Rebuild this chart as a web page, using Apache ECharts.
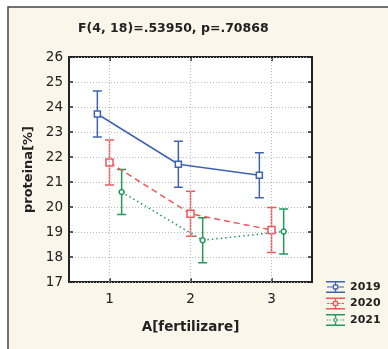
<!DOCTYPE html>
<html>
<head>
<meta charset="utf-8">
<script src="https://cdn.jsdelivr.net/npm/echarts@6/dist/echarts.min.js"></script>
<style>
  html, body { margin: 0; padding: 0; background: #fff; }
  #chart { width: 388px; height: 349px; }
</style>
</head>
<body>
<div id="chart"></div>
<script>
// data
const categories = [1, 2, 3];
const years = ["2019", "2020", "2021"];
const mean2019 = [23.72, 21.71, 21.27];
const mean2020 = [21.78, 19.73, 19.08];
const mean2021 = [20.6, 18.67, 19.02];
const err2019 = [0.92, 0.92, 0.9];
const err2020 = [0.9, 0.9, 0.9];
const err2021 = [0.9, 0.9, 0.9];

const means = [mean2019, mean2020, mean2021];
const errs = [err2019, err2020, err2021];

// style
const colors = ["#3d64b4", "#f0585c", "#23985a"];
const shift = [-0.15, 0, 0.15]; // dodge so the bars do not overlap
const lineTypes = ["solid", [6, 4], [1.5, 3]];
const symbols = ["rect", "rect", "circle"];
const symbolSizes = [6, 7, 5];
const font = "DejaVu Sans";

// legend glyphs (error bar + marker)
const capPath = "M0 0H19V1.4H0Z M0 10.6H19V12H0Z M8.8 1.4H10.2V3.6H8.8Z M8.8 8.4H10.2V10.6H8.8Z ";
const boxPath = "M6.8 3.6H12.2V8.4H6.8Z M8 4.8V7.2H11V4.8Z ";
const icons = [
  "path://" + capPath + boxPath + "M1 5.4H6.8V6.6H1Z M12.2 5.4H18V6.6H12.2Z",
  "path://" + capPath + boxPath + "M1 5.4H3.5V6.6H1Z M4.5 5.4H6.8V6.6H4.5Z M12.2 5.4H14.5V6.6H12.2Z M15.5 5.4H18V6.6H15.5Z",
  "path://M0 0H19V1.4H0Z M0 10.6H19V12H0Z M8.8 1.4H10.2V3.2H8.8Z M8.8 8.8H10.2V10.6H8.8Z " +
    "M9.5 3.2L12.3 6L9.5 8.8L6.7 6Z M9.5 4.6L8.1 6L9.5 7.4L10.9 6Z " +
    "M1 5.4H2.2V6.6H1Z M3.6 5.4H4.8V6.6H3.6Z M14.2 5.4H15.4V6.6H14.2Z M16.8 5.4H18V6.6H16.8Z"
];

let myChart = echarts.init(document.getElementById("chart"));

let seriesArr = [];
years.forEach((y, i) => {
  // error bars
  seriesArr.push({
    name: y,
    type: "custom",
    z: 2,
    silent: true,
    data: categories.map((c, j) => [c + shift[i], means[i][j] - errs[i][j], means[i][j] + errs[i][j]]),
    renderItem: (params, api) => {
      let top = api.coord([api.value(0), api.value(2)]);
      let bot = api.coord([api.value(0), api.value(1)]);
      let w = 4.5;
      let st = { stroke: colors[i], lineWidth: 1.5 };
      return {
        type: "group",
        children: [
          { type: "line", shape: { x1: top[0], y1: top[1], x2: bot[0], y2: bot[1] }, style: st },
          { type: "line", shape: { x1: top[0] - w, y1: top[1], x2: top[0] + w, y2: top[1] }, style: st },
          { type: "line", shape: { x1: bot[0] - w, y1: bot[1], x2: bot[0] + w, y2: bot[1] }, style: st },
        ],
      };
    },
    markLine: i === 0 ? {
      silent: true,
      symbol: ["none", "none"],
      label: { show: false },
      lineStyle: { color: "#b8b8b8", type: [1, 2], width: 1 },
      data: categories.map((c) => ({ xAxis: c })),
    } : undefined,
  });
  // means
  seriesArr.push({
    name: y,
    type: "line",
    z: 3,
    data: categories.map((c, j) => [c + shift[i], means[i][j]]),
    symbol: symbols[i],
    symbolSize: symbolSizes[i],
    lineStyle: { color: colors[i], width: 1.5, type: lineTypes[i] },
    itemStyle: { color: "#fff", borderColor: colors[i], borderWidth: 1.5 },
    emphasis: { disabled: true },
  });
});

myChart.setOption({
  animation: false,
  backgroundColor: "#fff",
  graphic: [
    {
      type: "rect",
      z: -10,
      shape: { x: 8, y: 7, width: 420, height: 380 },
      style: { fill: "#fbf6ea", stroke: "#444", lineWidth: 1.5 },
    },
  ],
  title: {
    text: "F(4, 18)=.53950, p=.70868",
    left: 78,
    top: 22,
    padding: 0,
    textStyle: { fontFamily: font, fontSize: 12.5, fontWeight: "bold", color: "#222" },
  },
  legend: {
    orient: "vertical",
    left: 326,
    top: 281,
    padding: 0,
    itemWidth: 19,
    itemHeight: 12,
    itemGap: 4.5,
    selectedMode: false,
    textStyle: { fontFamily: font, fontSize: 11, fontWeight: "bold", color: "#222" },
    data: years.map((y, i) => ({
      name: y,
      icon: icons[i],
      itemStyle: { color: colors[i], borderWidth: 0 },
    })),
  },
  grid: {
    left: 69,
    right: 76,
    top: 57,
    bottom: 67,
    show: true,
    backgroundColor: "#fff",
    borderColor: "#222",
    borderWidth: 2,
  },
  xAxis: [
    {
      type: "value",
      min: 0.5,
      max: 3.5,
      position: "bottom",
      name: "A[fertilizare]",
      nameLocation: "middle",
      nameGap: 38,
      nameTextStyle: { fontFamily: font, fontSize: 13.5, fontWeight: "bold", color: "#222" },
      axisLine: { show: false },
      axisTick: { inside: true, length: 4, customValues: categories, lineStyle: { color: "#222", width: 1.5 } },
      axisLabel: { customValues: categories, margin: 10, fontFamily: font, fontSize: 13.5, color: "#222" },
      splitLine: { show: false },
    },
    {
      type: "value",
      min: 0.5,
      max: 3.5,
      position: "top",
      axisLine: { show: false },
      axisTick: { inside: true, length: 4, customValues: categories, lineStyle: { color: "#222", width: 1.5 } },
      axisLabel: { show: false },
      splitLine: { show: false },
    },
  ],
  yAxis: [
    {
      type: "value",
      min: 17,
      max: 26,
      interval: 1,
      name: "proteina[%]",
      nameLocation: "middle",
      nameGap: 30,
      nameTextStyle: { fontFamily: font, fontSize: 13, fontWeight: "bold", color: "#222" },
      axisLine: { show: false },
      axisTick: { inside: true, length: 4, lineStyle: { color: "#222", width: 1.5 } },
      axisLabel: { margin: 6, fontFamily: font, fontSize: 13.5, color: "#222" },
      splitLine: { lineStyle: { color: "#b8b8b8", type: [1, 2], width: 1 } },
    },
    {
      type: "value",
      min: 17,
      max: 26,
      interval: 1,
      position: "right",
      axisLine: { show: false },
      axisTick: { inside: true, length: 4, lineStyle: { color: "#222", width: 1.5 } },
      axisLabel: { show: false },
      splitLine: { show: false },
    },
  ],
  series: seriesArr,
});
</script>
</body>
</html>
